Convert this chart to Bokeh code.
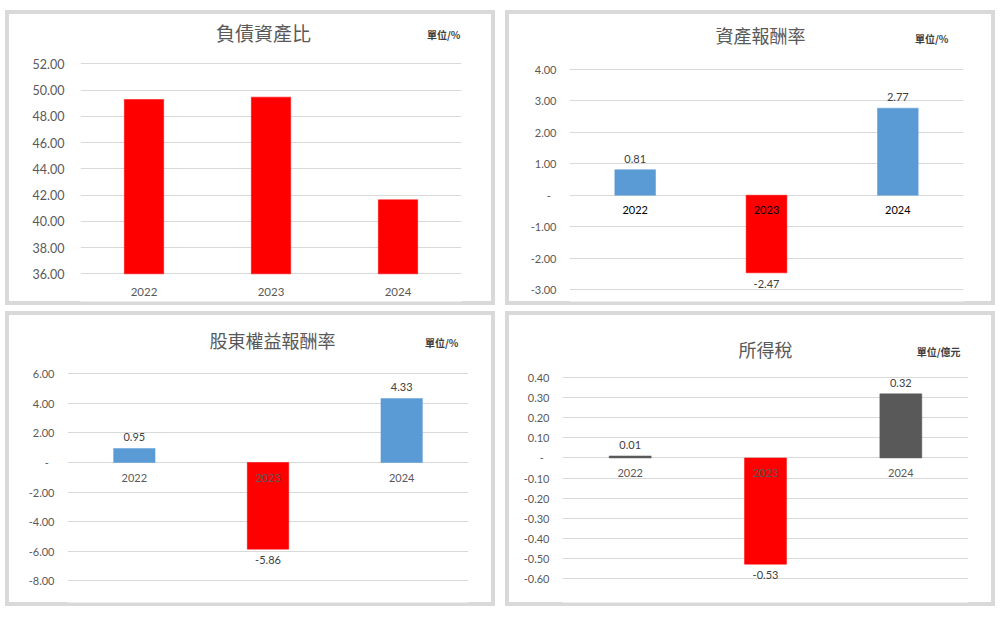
from bokeh.plotting import figure
from bokeh.models import Range1d, FixedTicker, ColumnDataSource, CustomJSTickFormatter
from bokeh.layouts import row, column
from bokeh.embed import file_html
from bokeh.resources import INLINE
from bokeh.core.properties import value

# ---------------- data ----------------
years = ["2022", "2023", "2024"]

debt_ratio = [49.28, 49.46, 41.64]      # 負債資產比 (%)
roa = [0.81, -2.47, 2.77]               # 資產報酬率 (%)
roe = [0.95, -5.86, 4.33]               # 股東權益報酬率 (%)
income_tax = [0.01, -0.53, 0.32]        # 所得稅 (億元)

debt_ticks = [36.0, 38.0, 40.0, 42.0, 44.0, 46.0, 48.0, 50.0, 52.0]
roa_ticks = [-3.0, -2.0, -1.0, 0.0, 1.0, 2.0, 3.0, 4.0]
roe_ticks = [-8.0, -6.0, -4.0, -2.0, 0.0, 2.0, 4.0, 6.0]
tax_ticks = [-0.6, -0.5, -0.4, -0.3, -0.2, -0.1, 0.0, 0.1, 0.2, 0.3, 0.4]

titles = ["負債資產比", "資產報酬率", "股東權益報酬率", "所得稅"]
units = ["單位/%", "單位/%", "單位/%", "單位/億元"]

# ---------------- style ----------------
RED = "#ff0000"
BLUE = "#5b9bd5"
DARK = "#595959"
GRID = "#d9d9d9"
BORDER = "#d9d9d9"
NUM_FONT = "Lato"
CJK_FONT = "Noto Sans CJK TC"

W, H = 490, 295
PAD = 4  # frame spans the full inner height of the panel

fmt = CustomJSTickFormatter(code="""
    if (Math.abs(tick) < 1e-9) { return "-\u00a0\u00a0"; }
    return tick.toFixed(2);
""")


def make_panel(vals, ticks, title, unit, pos_color, cfg):
    left, right = cfg["lr"]
    T, B = cfg["tb"]              # pixel rows of the top / bottom tick inside the panel
    ymin, ymax = ticks[0], ticks[-1]
    s = (B - T) / (ymax - ymin)   # pixels per unit
    y_top = ymax + (T - PAD) / s
    y_bot = ymin - (H - PAD - B) / s
    frame_w = W - left - right

    def ypx(py):                  # panel pixel row -> data y
        return ymax + (T - py) / s

    def xpx(px):                  # panel pixel column -> categorical synthetic x
        return (px - left) / frame_w * 3

    p = figure(
        x_range=years, y_range=Range1d(y_bot, y_top),
        width=W, height=H,
        min_border_left=left, min_border_right=right,
        min_border_top=PAD, min_border_bottom=PAD,
        output_backend="svg", toolbar_location=None,
        x_axis_location=None,
        background_fill_color="white",
        border_fill_color="white", border_fill_alpha=0.0,
        outline_line_color=None,
        styles={
            "background-color": "white",
            "box-shadow": "inset 0 0 0 4px " + BORDER,
        },
    )
    p.toolbar.logo = None

    # y axis
    p.yaxis.ticker = FixedTicker(ticks=ticks)
    p.yaxis.formatter = fmt
    p.yaxis.axis_line_color = None
    p.yaxis.major_tick_line_color = None
    p.yaxis.minor_tick_line_color = None
    p.yaxis.major_tick_out = 0
    p.yaxis.major_tick_in = 0
    p.yaxis.major_label_standoff = cfg["ystand"]
    p.yaxis.major_label_text_font = NUM_FONT
    p.yaxis.major_label_text_font_size = cfg["tick_fs"]
    p.yaxis.major_label_text_color = DARK

    p.ygrid.grid_line_color = GRID
    p.ygrid.grid_line_width = 1
    p.xgrid.grid_line_color = None

    base = ymin if cfg["floor"] else 0.0
    colors = [pos_color if v >= 0 else RED for v in vals]
    src = ColumnDataSource(dict(
        x=years, top=vals, color=colors,
        label=["%.2f" % v for v in vals],
        base=[base] * len(vals),
        off=[-7 if v >= 0 else 7 for v in vals],
        bl=["bottom" if v >= 0 else "top" for v in vals],
    ))
    p.vbar(x="x", top="top", bottom=base, width=0.31, source=src,
           fill_color="color", line_color="color", line_width=0.5)

    if cfg["value_labels"]:
        p.text(x="x", y="top", text="label", source=src,
               y_offset="off", text_baseline="bl", text_align="center",
               text_font=value(NUM_FONT), text_font_size="11px",
               text_color="#404040")

    # category labels
    p.text(x="x", y="base", text="x", source=src,
           y_offset=cfg["cat_off"], text_baseline="middle", text_align="center",
           text_font=value(NUM_FONT), text_font_size=cfg["cat_fs"],
           text_color=cfg["cat_color"])

    # title and unit
    tx, ty = cfg["title_px"]
    ux, uy = cfg["unit_px"]
    p.text(x=[xpx(tx)], y=[ypx(ty)], text=[title],
           text_align="center", text_baseline="middle",
           text_font=value(CJK_FONT), text_font_size=cfg["title_fs"],
           text_color=DARK)
    p.text(x=[xpx(ux)], y=[ypx(uy)], text=[unit],
           text_align="right", text_baseline="middle",
           text_font=value(CJK_FONT), text_font_size="10px",
           text_font_style="bold", text_color="#404040")
    return p


# positions in pixels relative to each panel's outer top-left corner
cfg1 = dict(lr=(75, 34), tb=(53.3, 263.3), ystand=16, tick_fs="12.5px",
            floor=True, value_labels=False, cat_off=18, cat_fs="11.5px", cat_color=DARK,
            title_px=(258, 22), unit_px=(455, 24), title_fs="19px")
cfg2 = dict(lr=(64, 32), tb=(59, 279), ystand=13, tick_fs="11px",
            floor=False, value_labels=True, cat_off=15, cat_fs="11px", cat_color="#000000",
            title_px=(255, 24), unit_px=(443, 28), title_fs="18px")
cfg3 = dict(lr=(62, 27), tb=(62.3, 269.3), ystand=13, tick_fs="11px",
            floor=False, value_labels=True, cat_off=15, cat_fs="11px", cat_color=DARK,
            title_px=(267, 28), unit_px=(453, 31), title_fs="18px")
cfg4 = dict(lr=(57, 27), tb=(66.3, 266.7), ystand=13, tick_fs="11px",
            floor=False, value_labels=True, cat_off=15, cat_fs="11px", cat_color=DARK,
            title_px=(260, 37), unit_px=(455, 40), title_fs="18px")

p1 = make_panel(debt_ratio, debt_ticks, titles[0], units[0], RED, cfg1)
p2 = make_panel(roa, roa_ticks, titles[1], units[1], BLUE, cfg2)
p3 = make_panel(roe, roe_ticks, titles[2], units[2], BLUE, cfg3)
p4 = make_panel(income_tax, tax_ticks, titles[3], units[3], DARK, cfg4)

layout = column(
    row(p1, p2, spacing=10),
    row(p3, p4, spacing=10),
    spacing=6,
    margin=(10, 0, 0, 5),
)

open("out.html", "w").write(file_html(layout, INLINE))
